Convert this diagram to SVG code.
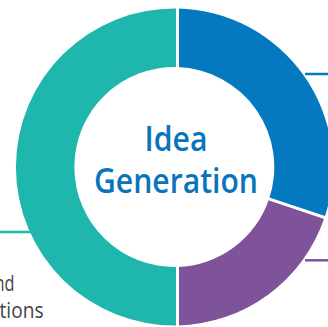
<svg xmlns="http://www.w3.org/2000/svg" width="328" height="327" viewBox="0 0 328 327">
  <style>
    .blue { fill: #0479bf; }
    .purple { fill: #7e5399; }
    .teal { fill: #1fb6ad; }
    .gap { stroke: #ffffff; stroke-width: 3; fill: none; }
    .lead { stroke-width: 2.5; fill: none; }
    .title { font-family: "Open Sans", "Liberation Sans", sans-serif; font-weight: 600; font-size: 34px; fill: #0a74bb; text-anchor: middle; }
    .label { font-family: "Open Sans", "Liberation Sans", sans-serif; font-weight: 400; font-size: 22px; fill: #444444; text-anchor: end; }
  </style>
  <rect width="328" height="327" fill="#ffffff"/>
  <g id="connectors">
    <line class="lead" x1="305" y1="74" x2="328" y2="74" stroke="#0479bf"/>
    <line class="lead" x1="305" y1="260.3" x2="328" y2="260.3" stroke="#7e5399"/>
    <line class="lead" x1="0" y1="232" x2="32" y2="232" stroke="#1fb6ad"/>
  </g>
  <g id="segment-blue">
    <path class="blue" d="M177.5,8.53 A158.5,158.5 0 0 1 324.52,217.56 L269.08,198.9 A100,100 0 0 0 177.5,67.05 Z"/>
  </g>
  <g id="segment-purple">
    <path class="purple" d="M324.52,217.56 A158.5,158.5 0 0 1 177.5,325.47 L177.5,266.95 A100,100 0 0 0 269.08,198.9 Z"/>
  </g>
  <g id="segment-teal">
    <path class="teal" d="M177.5,325.47 A158.5,158.5 0 1 1 177.5,8.53 L177.5,67.05 A100,100 0 1 0 177.5,266.95 Z"/>
  </g>
  <g id="gaps">
    <line class="gap" x1="177.5" y1="0" x2="177.5" y2="70"/>
    <line class="gap" x1="177.5" y1="262" x2="177.5" y2="327"/>
    <line class="gap" x1="264.3" y1="197.3" x2="330.7" y2="219.6"/>
  </g>
  <g id="center-label">
    <text class="title" x="176" y="151" textLength="63" lengthAdjust="spacingAndGlyphs">Idea</text>
    <text class="title" x="176" y="193" textLength="164" lengthAdjust="spacingAndGlyphs">Generation</text>
  </g>
  <g id="left-label">
    <text class="label" x="14.5" y="290.5" textLength="20" lengthAdjust="spacingAndGlyphs">nd</text>
    <text class="label" x="43.5" y="318" textLength="44" lengthAdjust="spacingAndGlyphs">tions</text>
  </g>
</svg>
